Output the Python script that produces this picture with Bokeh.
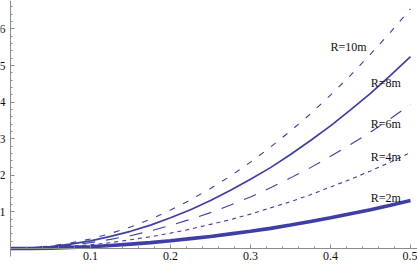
from bokeh.plotting import figure
from bokeh.models import Range1d, LinearAxis, FixedTicker
from bokeh.core.properties import value
from bokeh.embed import file_html
from bokeh.resources import INLINE

# x positions (s)
x = [0, 0.025, 0.05, 0.075, 0.1, 0.125, 0.15, 0.175, 0.2, 0.225, 0.25,
     0.275, 0.3, 0.325, 0.35, 0.375, 0.4, 0.425, 0.45, 0.475, 0.5]

r2 = [0, 0.00, 0.01, 0.03, 0.05, 0.08, 0.12, 0.16, 0.21, 0.27, 0.33,
      0.40, 0.47, 0.55, 0.64, 0.74, 0.84, 0.95, 1.06, 1.18, 1.31]
r4 = [0, 0.01, 0.03, 0.06, 0.10, 0.16, 0.24, 0.32, 0.42, 0.53, 0.66,
      0.79, 0.94, 1.11, 1.28, 1.47, 1.68, 1.89, 2.12, 2.36, 2.62]
r6 = [0, 0.01, 0.04, 0.09, 0.16, 0.25, 0.35, 0.48, 0.63, 0.80, 0.98,
      1.19, 1.41, 1.66, 1.93, 2.21, 2.52, 2.84, 3.18, 3.55, 3.93]
r8 = [0, 0.01, 0.05, 0.12, 0.21, 0.33, 0.47, 0.64, 0.84, 1.06, 1.31,
      1.59, 1.89, 2.21, 2.57, 2.95, 3.35, 3.79, 4.24, 4.73, 5.24]
r10 = [0, 0.02, 0.07, 0.15, 0.26, 0.41, 0.59, 0.80, 1.05, 1.33, 1.64,
       1.98, 2.36, 2.77, 3.21, 3.68, 4.19, 4.73, 5.31, 5.91, 6.55]

series_labels = ["R=2m", "R=4m", "R=6m", "R=8m", "R=10m"]

x_ticks = [0.1, 0.2, 0.3, 0.4, 0.5]
x_tick_labels = ["0.1", "0.2", "0.3", "0.4", "0.5"]
x_minor = [0.02, 0.04, 0.06, 0.08, 0.12, 0.14, 0.16, 0.18, 0.22, 0.24, 0.26, 0.28,
           0.32, 0.34, 0.36, 0.38, 0.42, 0.44, 0.46, 0.48]
y_ticks = [1, 2, 3, 4, 5, 6]
y_tick_labels = ["1", "2", "3", "4", "5", "6"]
y_minor = [0.2, 0.4, 0.6, 0.8, 1.2, 1.4, 1.6, 1.8, 2.2, 2.4, 2.6, 2.8, 3.2, 3.4, 3.6, 3.8,
           4.2, 4.4, 4.6, 4.8, 5.2, 5.4, 5.6, 5.8, 6.2, 6.4, 6.6]

W, H = 417, 267
p = figure(width=W, height=H, output_backend="svg", toolbar_location=None,
           x_range=Range1d(-0.0125, 0.50875), y_range=Range1d(-0.519, 6.776),
           min_border=0, x_axis_location=None, y_axis_location=None,
           background_fill_color="white", border_fill_color="white")
p.outline_line_color = None
p.grid.visible = False

serif = "Liberation Serif"
axis_col = "#8c8c8c"

xa = LinearAxis(fixed_location=0,
                ticker=FixedTicker(ticks=x_ticks, minor_ticks=x_minor),
                major_label_overrides={t: l for t, l in zip(x_ticks, x_tick_labels)})
xa.bounds = (0, 0.50875)
xa.axis_line_color = axis_col
xa.major_tick_line_color = axis_col
xa.minor_tick_line_color = axis_col
xa.major_tick_in = 4
xa.major_tick_out = 0
xa.minor_tick_in = 2
xa.minor_tick_out = 0
xa.major_label_standoff = 3
xa.major_label_text_font = serif
xa.major_label_text_font_size = "12px"
xa.major_label_text_color = "#111111"
p.add_layout(xa, "below")

ya = LinearAxis(fixed_location=0,
                ticker=FixedTicker(ticks=y_ticks, minor_ticks=y_minor),
                major_label_overrides={t: l for t, l in zip(y_ticks, y_tick_labels)})
ya.bounds = (-0.22, 6.776)
ya.axis_line_color = axis_col
ya.major_tick_line_color = axis_col
ya.minor_tick_line_color = axis_col
ya.major_tick_in = 4
ya.major_tick_out = 0
ya.minor_tick_in = 2
ya.minor_tick_out = 0
ya.major_label_standoff = 5
ya.major_label_text_font = serif
ya.major_label_text_font_size = "12px"
ya.major_label_text_color = "#111111"
p.add_layout(ya, "left")

col = "#3e3ea6"
p.line(x, r2, line_color=col, line_width=3.6)
p.line(x, r4, line_color=col, line_width=1.1, line_dash="4 4")
p.line(x, r6, line_color=col, line_width=1.1, line_dash="13 11")
p.line(x, r8, line_color=col, line_width=1.7)
p.line(x, r10, line_color=col, line_width=1.1, line_dash="6 9")

lx = [0.469, 0.469, 0.469, 0.469, 0.4225]
ly = [1.37, 2.49, 3.39, 4.52, 5.50]
p.text(x=lx, y=ly, text=series_labels, text_font=value(serif),
       text_font_size="12px", text_align="center", text_baseline="middle",
       text_color="#111111")

open("out.html", "w").write(file_html(p, INLINE))
